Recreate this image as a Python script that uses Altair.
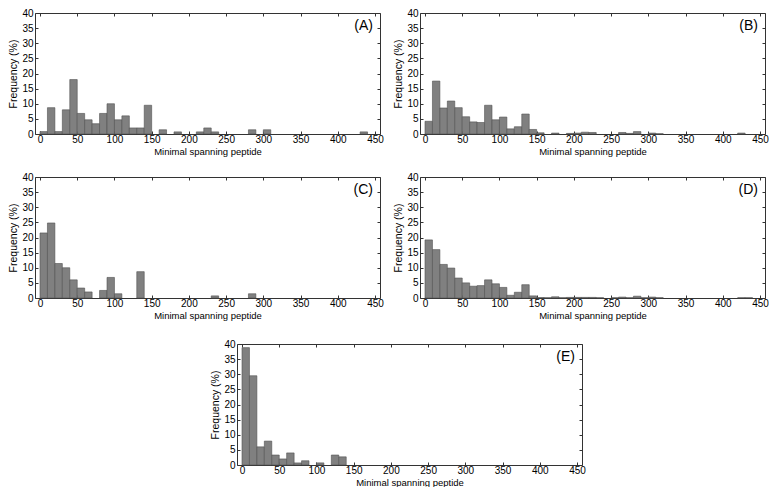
import altair as alt
import pandas as pd

bin_starts = list(range(0, 450, 10))
bin_width = 10

freq_A = [0.8, 8.7, 0.8, 8.0, 18.0, 6.8, 4.7, 3.4, 6.8, 10.0,
          4.7, 6.0, 2.0, 2.0, 9.5, 0, 1.4, 0, 0.7, 0,
          0, 0.7, 2.0, 0.7, 0, 0, 0, 0, 1.4, 0,
          1.4, 0, 0, 0, 0, 0, 0, 0, 0, 0,
          0, 0, 0, 0.7, 0]
freq_B = [4.2, 17.5, 8.6, 10.9, 8.7, 5.7, 4.0, 3.8, 9.5, 4.7,
          5.6, 1.7, 2.4, 6.6, 1.5, 0.4, 0, 0.3, 0, 0.2,
          0.3, 0.6, 0.5, 0, 0, 0, 0.5, 0.2, 0.8, 0,
          0.3, 0.1, 0, 0, 0, 0, 0, 0, 0, 0,
          0, 0, 0.3, 0, 0]
freq_C = [21.5, 24.8, 11.4, 10.0, 6.0, 3.3, 2.0, 0, 2.5, 6.8,
          1.4, 0, 0, 8.7, 0, 0, 0, 0, 0, 0,
          0, 0, 0, 0.7, 0, 0, 0, 0, 1.4, 0,
          0, 0, 0, 0, 0, 0, 0, 0, 0, 0,
          0, 0, 0, 0, 0]
freq_D = [19.2, 16.0, 11.1, 9.9, 6.6, 5.0, 3.9, 4.1, 6.0, 4.7,
          3.5, 0.9, 1.9, 4.4, 0.7, 0.15, 0.1, 0.4, 0.1, 0.2,
          0.2, 0.2, 0.2, 0.1, 0, 0.1, 0.3, 0.1, 0.6, 0.1,
          0.3, 0.1, 0, 0, 0, 0, 0, 0, 0, 0,
          0, 0, 0.1, 0.1, 0]
freq_E = [38.8, 29.5, 6.0, 7.9, 3.3, 2.0, 4.0, 0.7, 1.4, 0,
          0.7, 0, 3.3, 2.7, 0, 0, 0, 0, 0, 0,
          0, 0, 0, 0, 0, 0, 0, 0, 0, 0,
          0, 0, 0, 0, 0, 0, 0, 0, 0, 0,
          0, 0, 0, 0, 0]

panel_labels = ["(A)", "(B)", "(C)", "(D)", "(E)"]
x_ticks = list(range(0, 451, 50))
y_ticks = list(range(0, 41, 5))
x_title = "Minimal spanning peptide"
y_title = "Frequency (%)"

W = 345
H = 121
FONT = "Liberation Sans"
BOX = "#333333"

xscale = alt.Scale(domain=[0, 450], nice=False, zero=False)
yscale = alt.Scale(domain=[0, 40], nice=False)


def panel(freqs, label):
    df = pd.DataFrame({"start": bin_starts, "freq": freqs})
    df["end"] = df["start"] + bin_width
    df["base"] = 0.0
    df = df[df["freq"] > 0]
    base = alt.Chart(df)

    bars = base.mark_rect(fill="#808080", stroke="#505050", strokeWidth=0.6).encode(
        x=alt.X("start:Q", scale=xscale,
                axis=alt.Axis(orient="bottom", values=x_ticks, title=x_title,
                              domain=True, domainColor=BOX, ticks=False,
                              labelPadding=0, grid=False, labelFlush=False,
                              titleFontSize=9.5, titlePadding=2)),
        x2="end:Q",
        y=alt.Y("freq:Q", scale=yscale,
                axis=alt.Axis(orient="left", values=y_ticks, title=y_title,
                              domain=True, domainColor=BOX, ticks=False,
                              labelPadding=2, grid=False, labelFlush=False,
                              titleFontSize=10.5, titlePadding=3)),
        y2="base:Q",
    )
    tick_common = dict(labels=False, title=None, ticks=True, tickSize=3,
                       tickColor=BOX, grid=False)
    # bottom inward ticks
    t1 = base.mark_bar(opacity=0).encode(
        x=alt.X("start:Q", scale=xscale,
                axis=alt.Axis(orient="top", offset=-H, values=x_ticks,
                              domain=False, **tick_common)),
        y=alt.Y("freq:Q", scale=yscale, axis=None),
    )
    # top inward ticks + top border
    t2 = base.mark_bar(opacity=0).encode(
        x=alt.X("start:Q", scale=xscale,
                axis=alt.Axis(orient="bottom", offset=-H, values=x_ticks,
                              domain=True, domainColor=BOX, **tick_common)),
        y=alt.Y("freq:Q", scale=yscale, axis=None),
    )
    # left inward ticks
    t3 = base.mark_bar(opacity=0).encode(
        x=alt.X("start:Q", scale=xscale, axis=None),
        y=alt.Y("freq:Q", scale=yscale,
                axis=alt.Axis(orient="right", offset=-W, values=y_ticks,
                              domain=False, **tick_common)),
    )
    # right inward ticks + right border
    t4 = base.mark_bar(opacity=0).encode(
        x=alt.X("start:Q", scale=xscale, axis=None),
        y=alt.Y("freq:Q", scale=yscale,
                axis=alt.Axis(orient="left", offset=-W, values=y_ticks,
                              domain=True, domainColor=BOX, **tick_common)),
    )
    txt = alt.Chart(pd.DataFrame({"t": [label]})).mark_text(
        align="right", baseline="middle", fontSize=14, font=FONT, color="black"
    ).encode(x=alt.value(W - 7), y=alt.value(13), text="t:N")

    return alt.layer(bars, t1, t2, t3, t4, txt).resolve_axis(
        x="independent", y="independent"
    ).properties(width=W, height=H)


pA = panel(freq_A, panel_labels[0])
pB = panel(freq_B, panel_labels[1])
pC = panel(freq_C, panel_labels[2])
pD = panel(freq_D, panel_labels[3])
pE = panel(freq_E, panel_labels[4])

spacer = alt.Chart(pd.DataFrame({"v": [0]})).mark_point(opacity=0).encode(
    x=alt.value(0), y=alt.value(0)
).properties(width=175, height=10)

row1 = alt.hconcat(pA, pB, spacing=9)
row2 = alt.hconcat(pC, pD, spacing=9)
row3 = alt.hconcat(spacer, pE, spacing=0)

chart = alt.vconcat(
    alt.vconcat(row1, row2, spacing=16), row3, spacing=19
).configure_view(
    strokeWidth=0
).configure_axis(
    labelFont=FONT, titleFont=FONT, labelFontSize=10,
    titleFontWeight="normal", labelColor="black", titleColor="black"
).properties(padding=0)

chart.save("out.html", embed_options={"renderer": "svg", "actions": False})
